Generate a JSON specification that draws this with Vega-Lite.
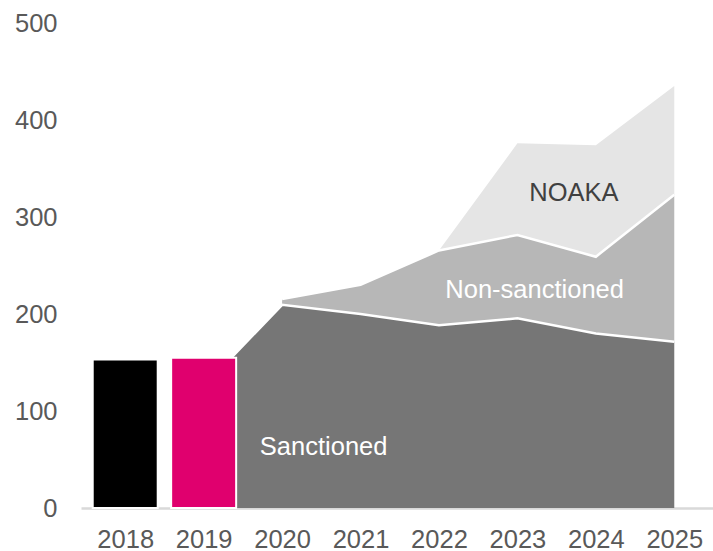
{
  "$schema": "https://vega.github.io/schema/vega-lite/v6.json",
  "autosize": {"type": "none"},
  "padding": {"left": 81, "top": 23, "right": 0, "bottom": 43},
  "width": 632,
  "height": 485,
  "background": "white",
  "config": {
    "view": {"stroke": null},
    "font": "Liberation Sans",
    "axis": {"labelFont": "Liberation Sans", "labelFontSize": 25.5, "labelColor": "#595959", "grid": false, "ticks": false, "title": null}
  },
  "datasets": {
    "bars": [
      {"year": 2018, "value": 153},
      {"year": 2019, "value": 155}
    ],
    "areas": [
      {"series": "Sanctioned", "year": 2019, "base": 0, "upper": 125},
      {"series": "Sanctioned", "year": 2020, "base": 0, "upper": 209.5},
      {"series": "Sanctioned", "year": 2021, "base": 0, "upper": 200},
      {"series": "Sanctioned", "year": 2022, "base": 0, "upper": 188.5},
      {"series": "Sanctioned", "year": 2023, "base": 0, "upper": 195.5},
      {"series": "Sanctioned", "year": 2024, "base": 0, "upper": 180},
      {"series": "Sanctioned", "year": 2025, "base": 0, "upper": 171.5},
      {"series": "Non-sanctioned", "year": 2020, "base": 209.5, "upper": 215.5},
      {"series": "Non-sanctioned", "year": 2021, "base": 200, "upper": 230},
      {"series": "Non-sanctioned", "year": 2022, "base": 188.5, "upper": 265.5},
      {"series": "Non-sanctioned", "year": 2023, "base": 195.5, "upper": 281.5},
      {"series": "Non-sanctioned", "year": 2024, "base": 180, "upper": 259},
      {"series": "Non-sanctioned", "year": 2025, "base": 171.5, "upper": 323},
      {"series": "NOAKA", "year": 2022, "base": 265.5, "upper": 265.5},
      {"series": "NOAKA", "year": 2023, "base": 281.5, "upper": 376},
      {"series": "NOAKA", "year": 2024, "base": 259, "upper": 374},
      {"series": "NOAKA", "year": 2025, "base": 323, "upper": 435}
    ],
    "labels": [
      {"text": "Sanctioned", "year": 2020.53, "value": 62.6},
      {"text": "Non-sanctioned", "year": 2023.22, "value": 224.7},
      {"text": "NOAKA", "year": 2023.72, "value": 324.4}
    ]
  },
  "layer": [
    {
      "data": {"name": "areas"},
      "mark": {"type": "area"},
      "encoding": {
        "x": {"field": "year", "type": "quantitative",
              "scale": {"domain": [2017.5, 2025.43], "nice": false, "zero": false},
              "axis": {"values": [2018, 2019, 2020, 2021, 2022, 2023, 2024, 2025], "format": "d", "labelFlush": false, "labelPadding": 19, "domainColor": "#d9d9d9", "domainWidth": 2.5, "labelOverlap": false}},
        "y": {"field": "upper", "type": "quantitative",
              "scale": {"domain": [0, 500], "nice": false},
              "axis": {"values": [0, 100, 200, 300, 400, 500], "domain": false, "labelPadding": 24}},
        "y2": {"field": "base"},
        "fill": {"field": "series", "type": "nominal",
                 "scale": {"domain": ["Sanctioned", "Non-sanctioned", "NOAKA"], "range": ["#767676", "#b7b7b7", "#e5e5e5"]},
                 "legend": null}
      }
    },
    {
      "data": {"name": "areas"},
      "transform": [{"filter": "datum.series !== 'NOAKA'"}],
      "mark": {"type": "line", "color": "white", "strokeWidth": 2.5},
      "encoding": {
        "x": {"field": "year", "type": "quantitative"},
        "y": {"field": "upper", "type": "quantitative"},
        "detail": {"field": "series"}
      }
    },
    {
      "data": {"name": "bars"},
      "mark": {"type": "bar", "size": 65, "stroke": "white", "strokeWidth": 2},
      "encoding": {
        "x": {"field": "year", "type": "quantitative"},
        "y": {"field": "value", "type": "quantitative"},
        "color": {"field": "year", "type": "nominal",
                  "scale": {"domain": [2018, 2019], "range": ["#000000", "#e0006e"]},
                  "legend": null}
      }
    },
    {
      "data": {"name": "labels"},
      "mark": {"type": "text", "fontSize": 25.5, "font": "Liberation Sans", "align": "center", "baseline": "middle"},
      "encoding": {
        "x": {"field": "year", "type": "quantitative"},
        "y": {"field": "value", "type": "quantitative"},
        "text": {"field": "text"},
        "color": {"condition": {"test": "datum.text === 'NOAKA'", "value": "#404040"}, "value": "#ffffff"}
      }
    }
  ],
  "resolve": {"scale": {"color": "independent", "fill": "independent"}}
}
